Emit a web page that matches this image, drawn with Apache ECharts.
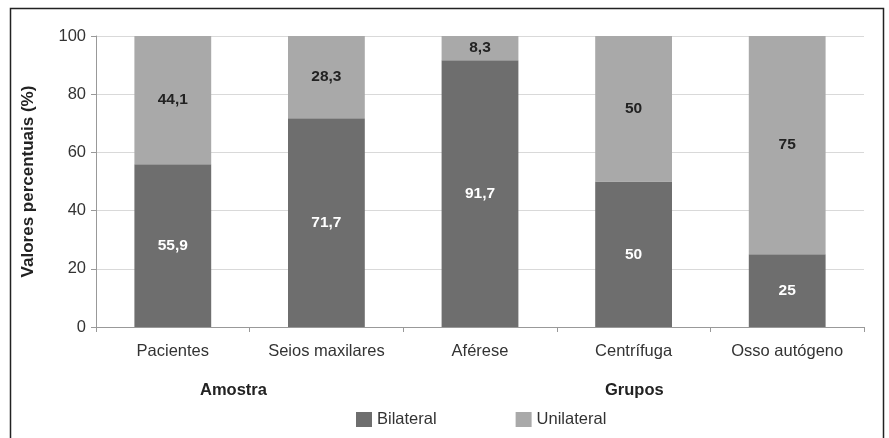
<!DOCTYPE html>
<html>
<head>
<meta charset="utf-8">
<script src="https://cdn.jsdelivr.net/npm/echarts@6/dist/echarts.min.js"></script>
<style>
html,body{margin:0;padding:0;background:#fff;}
#chart{width:889px;height:438px;}
</style>
</head>
<body>
<div id="chart"></div>
<script>
// Categories (sample + groups) and stacked percentages
const categories = ['Pacientes', 'Seios maxilares', 'Aférese', 'Centrífuga', 'Osso autógeno'];
const bilateral = [55.9, 71.7, 91.7, 50, 25];
const unilateral = [44.1, 28.3, 8.3, 50, 75];
const yTicks = [0, 20, 40, 60, 80, 100];

const fmt = v => String(v).replace('.', ',');
const font = 'Liberation Sans, Arial, sans-serif';

const chart = echarts.init(document.getElementById('chart'));
chart.setOption({
  animation: false,
  textStyle: { fontFamily: font },
  grid: { left: 96, right: 25, top: 36, bottom: 111 },
  legend: {
    data: ['Bilateral', 'Unilateral'],
    left: 356, top: 411, padding: 0,
    itemWidth: 16, itemHeight: 15, itemGap: 79,
    icon: 'rect',
    textStyle: { fontSize: 16.5, color: '#333', fontFamily: font }
  },
  xAxis: {
    type: 'category',
    data: categories,
    axisLine: { lineStyle: { color: '#999' } },
    axisTick: { show: true, lineStyle: { color: '#999' } },
    axisLabel: { fontSize: 16.5, color: '#333', margin: 16, fontFamily: font }
  },
  yAxis: {
    type: 'value',
    min: yTicks[0], max: yTicks[yTicks.length - 1], interval: 20,
    name: 'Valores percentuais (%)',
    nameLocation: 'middle', nameGap: 59,
    nameTextStyle: { fontSize: 17, fontWeight: 'bold', color: '#222', fontFamily: font },
    axisLine: { show: true, lineStyle: { color: '#999' } },
    axisTick: { show: true, length: 5, lineStyle: { color: '#999' } },
    axisLabel: { fontSize: 16.5, color: '#333', margin: 10, fontFamily: font },
    splitLine: { lineStyle: { color: '#d9d9d9' } }
  },
  series: [
    {
      name: 'Bilateral', type: 'bar', stack: 'total',
      data: bilateral, barWidth: '50%',
      itemStyle: { color: '#6e6e6e' },
      label: { show: true, position: 'inside', formatter: p => fmt(p.value),
        color: '#fff', fontSize: 15.5, fontWeight: 'bold', fontFamily: font }
    },
    {
      name: 'Unilateral', type: 'bar', stack: 'total',
      data: unilateral, barWidth: '50%',
      itemStyle: { color: '#a9a9a9' },
      label: { show: true, position: 'inside', formatter: p => fmt(p.value),
        color: '#222', fontSize: 15.5, fontWeight: 'bold', fontFamily: font }
    }
  ],
  graphic: [
    { type: 'rect', shape: { x: 10.5, y: 8.5, width: 873, height: 440 },
      style: { fill: 'none', stroke: '#222', lineWidth: 1.5 }, silent: true },
    { type: 'text', left: 200, top: 382,
      style: { text: 'Amostra', fontSize: 16.5, fontWeight: 'bold', fill: '#222', fontFamily: font } },
    { type: 'text', left: 605, top: 382,
      style: { text: 'Grupos', fontSize: 16.5, fontWeight: 'bold', fill: '#222', fontFamily: font } }
  ]
});
</script>
</body>
</html>
